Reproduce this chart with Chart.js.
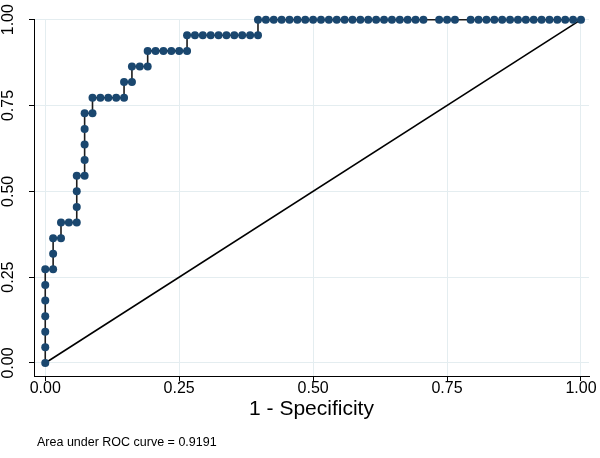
<!DOCTYPE html>
<html>
<head>
<meta charset="utf-8">
<script src="https://cdn.jsdelivr.net/npm/chart.js@4.4.1/dist/chart.umd.min.js"></script>
<style>
  html, body { margin: 0; padding: 0; background: #fff; }
  #wrap { width: 600px; height: 458px; position: relative; }
</style>
</head>
<body>
<div id="wrap"><canvas id="roc"></canvas></div>
<script>
// ROC curve (Stata roctab style)

// 1 - specificity at each cutoff
const fpr = [
  0, 0, 0, 0, 0, 0, 0,
  0.0147, 0.0147, 0.0147,
  0.0294, 0.0294,
  0.0441,
  0.0588, 0.0588, 0.0588, 0.0588,
  0.0735, 0.0735, 0.0735, 0.0735, 0.0735,
  0.0882, 0.0882,
  0.1029, 0.1176, 0.1324,
  0.1471, 0.1471,
  0.1618, 0.1618,
  0.1765,
  0.1912, 0.1912,
  0.2059, 0.2206, 0.2353, 0.2500,
  0.2647, 0.2647,
  0.2794, 0.2941, 0.3088, 0.3235, 0.3382, 0.3529, 0.3676, 0.3824,
  0.3971, 0.3971,
  0.4118, 0.4265, 0.4412, 0.4559, 0.4706, 0.4853, 0.5000, 0.5147,
  0.5294, 0.5441, 0.5588, 0.5735, 0.5882, 0.6029, 0.6176, 0.6324,
  0.6471, 0.6618, 0.6765, 0.6912, 0.7059,
  0.7353, 0.7500, 0.7647,
  0.7941, 0.8088, 0.8235, 0.8382, 0.8529, 0.8676, 0.8824, 0.8971,
  0.9118, 0.9265, 0.9412, 0.9559, 0.9706, 0.9853, 1.0000
];

// sensitivity at each cutoff
const sensitivity = [
  0, 0.0455, 0.0909, 0.1364, 0.1818, 0.2273, 0.2727,
  0.2727, 0.3182, 0.3636,
  0.3636, 0.4091,
  0.4091,
  0.4091, 0.4545, 0.5000, 0.5455,
  0.5455, 0.5909, 0.6364, 0.6818, 0.7273,
  0.7273, 0.7727,
  0.7727, 0.7727, 0.7727,
  0.7727, 0.8182,
  0.8182, 0.8636,
  0.8636,
  0.8636, 0.9091,
  0.9091, 0.9091, 0.9091, 0.9091,
  0.9091, 0.9545,
  0.9545, 0.9545, 0.9545, 0.9545, 0.9545, 0.9545, 0.9545, 0.9545,
  0.9545, 1,
  1, 1, 1, 1, 1, 1, 1, 1,
  1, 1, 1, 1, 1, 1, 1, 1,
  1, 1, 1, 1, 1,
  1, 1, 1,
  1, 1, 1, 1, 1, 1, 1, 1,
  1, 1, 1, 1, 1, 1, 1
];

// reference line
const diagX = [0, 1];
const diagY = [0, 1];

const tickValues = [0, 0.25, 0.5, 0.75, 1];
const tickLabels = ['0.00', '0.25', '0.50', '0.75', '1.00'];
const xTitle = '1 - Specificity';
const note = 'Area under ROC curve = 0.9191';

const FONT = "'Liberation Sans', Arial, sans-serif";

const rocPoints = fpr.map((x, i) => ({ x, y: sensitivity[i] }));
const diagPoints = diagX.map((x, i) => ({ x, y: diagY[i] }));

// tick labels, axis title and the note (Stata draws y labels turned 90 deg)
const stataText = {
  id: 'stataText',
  afterDraw(chart) {
    const { ctx, scales } = chart;
    const xs = scales.x, ys = scales.y;
    ctx.save();
    ctx.fillStyle = '#000';
    ctx.font = '16px ' + FONT;
    ctx.textAlign = 'center';
    ctx.textBaseline = 'middle';
    tickValues.forEach((v, i) => {
      ctx.fillText(tickLabels[i], xs.getPixelForValue(v), 389);
    });
    tickValues.forEach((v, i) => {
      ctx.save();
      ctx.translate(9, ys.getPixelForValue(v));
      ctx.rotate(-Math.PI / 2);
      ctx.fillText(tickLabels[i], 0, 0);
      ctx.restore();
    });
    ctx.font = '21px ' + FONT;
    ctx.textBaseline = 'alphabetic';
    ctx.fillText(xTitle, (xs.left + xs.right) / 2, 415);
    ctx.font = '12.5px ' + FONT;
    ctx.textAlign = 'left';
    ctx.fillText(note, 37, 446);
    ctx.restore();
  }
};

const gridOpts = {
  color: '#e4edf0',
  lineWidth: 1,
  drawTicks: true,
  tickLength: 5,
  tickColor: '#000',
  tickWidth: 1,
};

new Chart(document.getElementById('roc'), {
  type: 'scatter',
  data: {
    datasets: [
      {
        data: rocPoints,
        showLine: true,
        borderColor: '#1c1c1c',
        borderWidth: 1.6,
        pointRadius: 4,
        pointBorderWidth: 0,
        pointBackgroundColor: '#1a476f',
        pointHoverRadius: 4,
        clip: false,
        order: 0,
      },
      {
        data: diagPoints,
        showLine: true,
        borderColor: '#000',
        borderWidth: 1.6,
        pointRadius: 0,
        clip: false,
        order: 1,
      },
    ],
  },
  options: {
    responsive: true,
    maintainAspectRatio: false,
    animation: false,
    layout: { padding: { top: 19, right: 11, left: 0, bottom: 0 } },
    plugins: {
      legend:  { display: false },
      tooltip: { enabled: false },
    },
    scales: {
      x: {
        type: 'linear',
        min: -0.021,
        max: 1.015,
        afterBuildTicks: s => { s.ticks = tickValues.map(v => ({ value: v })); },
        afterFit: s => { s.height = 82; },
        ticks:  { display: false },
        grid:   gridOpts,
        border: { display: true, color: '#000', width: 1 },
      },
      y: {
        type: 'linear',
        min: -0.038,
        max: 1.002,
        afterBuildTicks: s => { s.ticks = tickValues.map(v => ({ value: v })); },
        afterFit: s => { s.width = 34; },
        ticks:  { display: false },
        grid:   gridOpts,
        border: { display: true, color: '#000', width: 1 },
      },
    },
  },
  plugins: [stataText],
});
</script>
</body>
</html>
